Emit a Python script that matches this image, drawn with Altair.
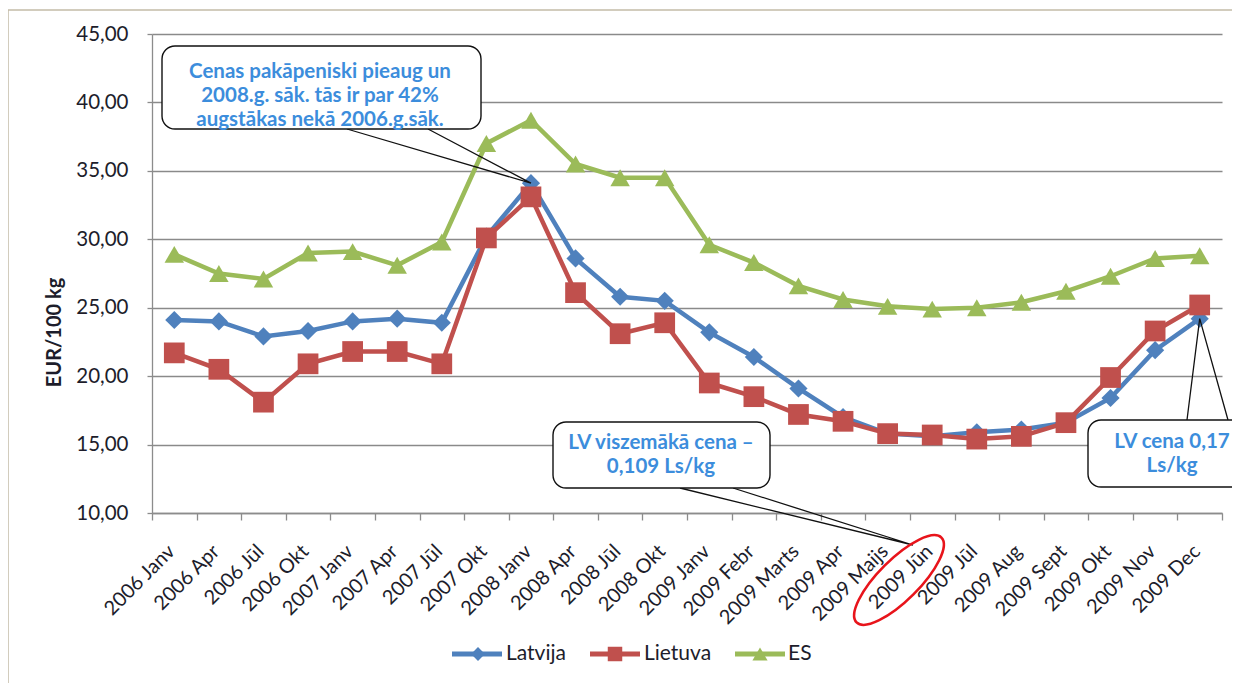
import json
import altair as alt
import pandas as pd

categories = ["2006 Janv", "2006 Apr", "2006 Jūl", "2006 Okt",
              "2007 Janv", "2007 Apr", "2007 Jūl", "2007 Okt",
              "2008 Janv", "2008 Apr", "2008 Jūl", "2008 Okt",
              "2009 Janv", "2009 Febr", "2009 Marts", "2009 Apr", "2009 Maijs", "2009 Jūn",
              "2009 Jūl", "2009 Aug", "2009 Sept", "2009 Okt", "2009 Nov", "2009 Dec"]
latvija = [24.1, 24.0, 22.9, 23.3, 24.0, 24.2, 23.9, 30.2, 34.1, 28.6, 25.8, 25.5,
           23.2, 21.4, 19.1, 17.0, 15.8, 15.6, 15.9, 16.1, 16.6, 18.4, 21.9, 24.2]
lietuva = [21.7, 20.5, 18.1, 20.9, 21.8, 21.8, 20.9, 30.1, 33.1, 26.1, 23.1, 23.9,
           19.5, 18.5, 17.2, 16.7, 15.8, 15.7, 15.4, 15.6, 16.6, 19.9, 23.3, 25.2]
es = [28.9, 27.5, 27.1, 29.0, 29.1, 28.1, 29.8, 37.0, 38.7, 35.5, 34.5, 34.5,
      29.6, 28.3, 26.6, 25.6, 25.1, 24.9, 25.0, 25.4, 26.2, 27.3, 28.6, 28.8]
series_names = ["Latvija", "Lietuva", "ES"]
series_colors = ["#4F81BD", "#C0504D", "#9BBB59"]
series_shapes = ["diamond", "square", "triangle-up"]
series_sizes = [330, 430, 380]

callout_texts = [
    "Cenas pakāpeniski pieaug un\n2008.g. sāk. tās ir par 42%\naugstākas nekā 2006.g.sāk.",
    "LV viszemākā cena –\n0,109 Ls/kg",
    "LV cena 0,17\nLs/kg",
]

# ---- layout helpers (pixel -> data units) ----
W, H = 1070, 479
PX0, PY0 = 152, 34
NCAT = len(categories)
STEP = W / NCAT
YPX = H / 35.0


def ix(px):
    return (px - PX0) / STEP


def vy(py):
    return 10 + (PY0 + H - py) / YPX


xscale = alt.Scale(domain=[0, NCAT], nice=False, zero=False)
yscale = alt.Scale(domain=[10, 45], nice=False, zero=False)

cats_js = json.dumps(categories, ensure_ascii=False)
FONT = "Lato"
TXT = "#1d1d2b"

x_axis = alt.Axis(
    values=[i / 2 for i in range(2 * NCAT + 1)],
    labelExpr=f"(datum.value % 1) == 0.5 ? {cats_js}[floor(datum.value)] : ''",
    labelAngle=315, labelAlign="right", labelBaseline="middle",
    labelFontSize=20, labelColor=TXT, labelPadding=28, labelOverlap=False,
    labelFont=FONT, labelBound=False, labelFlush=False, labelOffset=-3,
    tickOpacity={"condition": {"test": "(datum.value % 1) == 0", "value": 1}, "value": 0},
    tickSize=7, tickColor="#8c8c8c", tickWidth=1.3,
    domainColor="#8c8c8c", domainWidth=1.3, grid=False, title=None,
)
y_axis = alt.Axis(
    values=[10, 15, 20, 25, 30, 35, 40, 45],
    labelExpr="replace(format(datum.value, '.2f'), '.', ',')",
    labelFontSize=20.5, labelColor=TXT, labelPadding=19, labelFont=FONT,
    tickSize=5, tickColor="#8c8c8c", tickWidth=1.3,
    domainColor="#8c8c8c", domainWidth=1.3,
    grid=True, gridColor="#8a8a8a", gridWidth=1.5,
    title="EUR/100 kg", titleFontSize=20, titleFontWeight="bold", titleFont=FONT,
    titleColor=TXT, titleAngle=270, titleX=-98, titleY=298, titleAlign="center",
    titleBaseline="middle",
)


def X(field):
    return alt.X(field, type="quantitative", scale=xscale, axis=x_axis)


def Y(field):
    return alt.Y(field, type="quantitative", scale=yscale, axis=y_axis)


rows = []
for name, vals in zip(series_names, [latvija, lietuva, es]):
    for i, (c, v) in enumerate(zip(categories, vals)):
        rows.append({"series": name, "idx": i + 0.5, "cat": c, "value": v})
df = pd.DataFrame(rows)

layers = []
for k in [2, 0, 1]:
    name, col, shp, sz = series_names[k], series_colors[k], series_shapes[k], series_sizes[k]
    sub = df[df.series == name]
    layers.append(alt.Chart(sub).mark_line(color=col, strokeWidth=4.5).encode(x=X("idx"), y=Y("value")))
    layers.append(alt.Chart(sub).mark_point(shape=shp, size=sz, filled=True, color=col, opacity=1).encode(
        x=X("idx"), y=Y("value")))

# frame around chart area
frame_df = pd.DataFrame({"idx": [ix(8)], "x2": [ix(1400)], "value": [vy(10)], "y2": [vy(900)]})
frame = alt.Chart(frame_df).mark_rect(fill=None, stroke="#c4bca8", strokeWidth=1.5).encode(
    x=X("idx"), x2="x2", y=Y("value"), y2="y2")

# callout wedges
wedge_rows = [
    ("w1", 0, ix(347), vy(129)), ("w1", 1, 8.5, latvija[8]), ("w1", 2, ix(428), vy(129)),
    ("w2", 0, ix(680), vy(488)), ("w2", 1, ix(913), vy(545)), ("w2", 2, ix(733), vy(488)),
    ("w3", 0, ix(1187), vy(420)), ("w3", 1, 23.5, latvija[23]), ("w3", 2, ix(1228), vy(420)),
]
wedge_df = pd.DataFrame(wedge_rows, columns=["g", "o", "idx", "value"])
wedges = alt.Chart(wedge_df).mark_line(color="#111111", strokeWidth=1.3).encode(
    x=X("idx"), y=Y("value"), detail="g:N", order="o:Q")

box_df = pd.DataFrame({"idx": [ix(162), ix(553), ix(1088)], "x2": [ix(481), ix(770), ix(1300)],
                       "value": [vy(46), vy(422), vy(420)], "y2": [vy(129), vy(488), vy(487)]})
boxes = alt.Chart(box_df).mark_rect(fill="white", stroke="#111111", strokeWidth=1.4, cornerRadius=13).encode(
    x=X("idx"), x2="x2", y=Y("value"), y2="y2")

text_df = pd.DataFrame({"idx": [ix(320), ix(661), ix(1172)], "value": [vy(72), vy(443), vy(442)],
                        "t": callout_texts})
texts = alt.Chart(text_df).mark_text(font=FONT, fontSize=20.5, fontWeight="bold", color="#3C8DDC",
                                     lineBreak="\n", lineHeight=24, align="center", baseline="middle").encode(
    x=X("idx"), y=Y("value"), text="t:N")

# red ellipse around "2009 Jūn"
ell_df = pd.DataFrame({"idx": [ix(899)], "value": [vy(580)]})
ellipse = alt.Chart(ell_df).mark_point(
    shape="M-1,0 A1,0.34 0 1,0 1,0 A1,0.34 0 1,0 -1,0 Z", size=14400, angle=315,
    filled=False, stroke="#E8141B", strokeWidth=2.6, opacity=1).encode(x=X("idx"), y=Y("value"))

# legend
leg_y = vy(654)
leg_df = pd.DataFrame({
    "series": series_names,
    "idx": [ix(452), ix(590), ix(735)],
    "x2": [ix(502), ix(640), ix(785)],
    "xm": [ix(478), ix(615), ix(760)],
    "xt": [ix(506), ix(644), ix(788)],
    "value": [leg_y] * 3,
})
cscale = alt.Scale(domain=series_names, range=series_colors)
leg_lines = alt.Chart(leg_df).mark_rule(strokeWidth=5).encode(
    x=X("idx"), x2="x2", y=Y("value"),
    color=alt.Color("series:N", scale=cscale, legend=None))
leg_pts = alt.Chart(leg_df).mark_point(filled=True, opacity=1).encode(
    x=X("xm"), y=Y("value"),
    color=alt.Color("series:N", scale=cscale, legend=None),
    shape=alt.Shape("series:N", scale=alt.Scale(domain=series_names, range=series_shapes), legend=None),
    size=alt.Size("series:N", scale=alt.Scale(domain=series_names, range=[190, 230, 190]), legend=None))
leg_txt = alt.Chart(leg_df).mark_text(font=FONT, fontSize=21, color=TXT, align="left", baseline="middle").encode(
    x=X("xt"), y=Y("value"), text="series:N")

chart = alt.layer(*layers, frame, wedges, boxes, texts, ellipse, leg_lines, leg_pts, leg_txt).properties(
    width=W, height=H,
    padding={"left": 144, "top": 26, "right": 10, "bottom": 170},
    autosize=alt.AutoSizeParams(type="none"),
).configure(font=FONT).configure_view(strokeWidth=0)

chart.save("out.html", embed_options={"renderer": "svg", "actions": False})
